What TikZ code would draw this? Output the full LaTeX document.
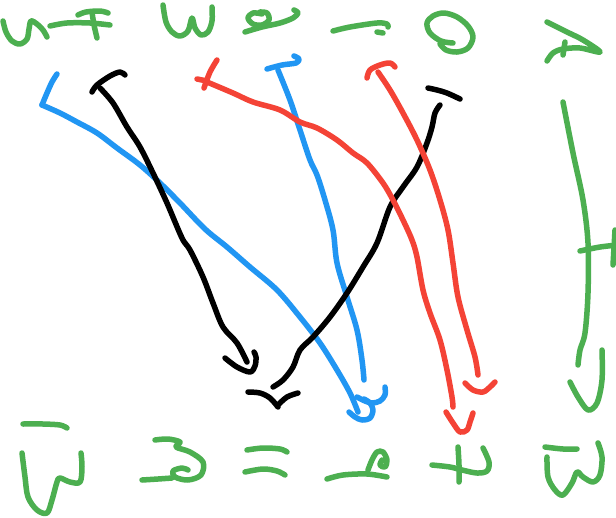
\documentclass[tikz,border=0pt]{standalone}
\definecolor{gr}{RGB}{76,175,80}
\definecolor{bl}{RGB}{33,150,243}
\definecolor{rd}{RGB}{244,67,54}
\definecolor{bk}{RGB}{0,0,0}
\tikzset{
  pen/.style={line width=5.5pt, line cap=round, line join=round},
  gpen/.style={pen, draw=gr},
  bpen/.style={pen, draw=bl},
  rpen/.style={pen, draw=rd},
  kpen/.style={pen, draw=bk},
  sm/.style={smooth, tension=0.55}
}
\begin{document}
\begin{tikzpicture}[x=1pt,y=-1pt]
\useasboundingbox[fill=white] (0,0) rectangle (616,517);
% ---------- top row of glyphs ----------
\draw[gpen] plot[sm] coordinates {(3,21) (6,32) (12,41) (20,44) (27,39) (29,29) (31,21) (37,24) (43,30) (47,37)};
\draw[gpen] plot[sm] coordinates {(50,26) (67,23) (90,23) (110,25)};
\draw[gpen] plot[sm] coordinates {(78,15) (86,12) (100,11) (108,13)};
\draw[gpen] plot[sm] coordinates {(92,12) (94,25) (97,38)};
\draw[gpen] plot[sm] coordinates {(163,5) (166,22) (172,32) (180,36) (188,31) (192,18) (195,28) (201,35) (208,32) (212,21) (212,7)};
\draw[gpen] plot[sm] coordinates {(262,14) (253,13) (248,18) (253,24) (262,25) (269,20) (267,13) (260,12)};
\draw[gpen] plot[sm] coordinates {(245,32) (262,27) (280,23) (293,18) (298,13) (294,10)};
\draw[gpen] plot[sm] coordinates {(333,31) (350,27) (377,23) (387,24) (388,27)};
\draw[gpen] (377,32) -- (383,33);
\draw[gpen] plot[sm] coordinates {(453,43) (441,41) (430,33) (427,23) (433,16) (444,13) (457,17) (468,26) (473,37) (468,48) (457,52) (446,50) (440,44)};
\draw[gpen] plot[sm] coordinates {(547,22) (567,32) (583,40) (600,52) (580,48) (563,49) (553,53) (547,61)};
\draw[gpen] (565,42) -- (563,55);
% ---------- right green arrow ----------
\draw[gpen] plot[sm] coordinates {(563,102) (573,153) (583,200) (588,243) (588,293) (585,333) (580,350) (578,365)};
\draw[gpen] plot[sm] coordinates {(580,251) (600,247) (618,245)};
\draw[gpen] (615,230) -- (613,265);
\draw[gpen] plot[sm] coordinates {(570,382) (578,397) (588,410) (597,403) (602,380) (602,350)};
% ---------- bottom row of glyphs ----------
\draw[gpen] plot[sm] coordinates {(23,424) (43,424) (60,425) (67,428)};
\draw[gpen] plot[sm] coordinates {(22,453) (25,477) (28,497) (37,510) (47,513) (52,500) (57,482) (60,478) (70,482) (80,482) (82,467) (81,453)};
\draw[gpen] plot[sm] coordinates {(155,440) (168,439) (180,442) (176,447) (190,452) (203,462) (201,475) (188,480) (175,477) (173,471) (182,468) (188,470)};
\draw[gpen] plot[sm] coordinates {(142,480) (158,479) (172,478)};
\draw[gpen] plot[sm] coordinates {(247,450) (263,448) (280,449) (287,452)};
\draw[gpen] plot[sm] coordinates {(245,472) (263,469) (277,471) (285,475)};
\draw[gpen] plot[sm] coordinates {(327,479) (343,475) (367,474) (387,477)};
\draw[gpen] plot[sm] coordinates {(368,470) (372,460) (377,452) (383,452) (387,460) (385,467) (380,465) (382,460)};
\draw[gpen] plot[sm] coordinates {(432,465) (450,467) (462,470) (477,473) (487,471) (489,462) (483,448)};
\draw[gpen] plot[sm] coordinates {(458,447) (459,465) (459,482)};
\draw[gpen] plot[sm] coordinates {(545,447) (563,449) (577,449)};
\draw[gpen] plot[sm] coordinates {(547,457) (548,477) (555,490) (563,495) (572,483) (577,472) (583,477) (593,482) (600,475) (602,457) (598,443)};
% ---------- blue arrow 1 ----------
\draw[bpen] plot[sm] coordinates {(57,74) (52,82) (47,93) (42,105)};
\draw[bpen] plot[sm] coordinates {(42,105) (60,113) (77,122) (97,133) (117,148) (140,165) (160,183) (180,203) (205,229) (227,247) (250,267) (277,290) (300,317) (320,343) (337,370) (350,393) (358,412)};
\draw[bpen] plot[sm] coordinates {(349,412) (355,417) (362,420) (370,418) (373,410) (370,403) (364,399)};
% ---------- blue arrow 2 ----------
\draw[bpen] plot[sm] coordinates {(267,69) (282,65) (296,63) (299,59) (294,56)};
\draw[bpen] plot[sm] coordinates {(278,70) (290,100) (300,130) (310,160) (317,175) (325,200) (333,230) (337,263) (347,297) (357,330) (362,360) (364,380)};
\draw[bpen] plot[sm] coordinates {(357,397) (365,401) (372,403) (380,401) (385,395) (385,387)};
% ---------- black arrow 1 ----------
\draw[kpen] plot[sm] coordinates {(92,92) (97,85) (110,76) (120,72) (125,75)};
\draw[kpen] plot[sm] coordinates {(100,88) (113,103) (127,127) (140,147) (153,173) (167,203) (182,238) (190,250) (203,277) (213,303) (223,327) (237,343) (247,362)};
\draw[kpen] plot[sm] coordinates {(225,358) (237,367) (250,372) (255,366) (256,357) (254,352)};
% ---------- black arrow 2 ----------
\draw[kpen] plot[sm] coordinates {(273,387) (283,380) (293,367) (300,350) (313,337) (330,317) (347,293) (363,267) (377,243) (390,207) (403,187) (417,167) (427,143) (432,127) (435,113) (440,105)};
\draw[kpen] plot[sm] coordinates {(428,88) (437,90) (447,93) (460,99)};
\draw[kpen] plot[sm] coordinates {(248,392) (260,393) (270,398) (278,407)};
\draw[kpen] plot[sm] coordinates {(278,405) (287,397) (298,393)};
% ---------- red arrow 1 ----------
\draw[rpen] (197,79) -- (207,81);
\draw[rpen] plot[sm] coordinates {(217,60) (210,72) (204,88)};
\draw[rpen] plot[sm] coordinates {(207,82) (233,93) (253,102) (280,110) (300,122) (317,128) (337,140) (353,153) (367,163) (383,183) (393,200) (403,220) (412,240) (417,257) (423,290) (430,313) (440,340) (447,370) (452,397) (453,407)};
\draw[rpen] plot[sm] coordinates {(446,412) (453,423) (460,432) (467,430) (470,422) (473,413)};
% ---------- red arrow 2 ----------
\draw[rpen] plot[sm] coordinates {(367,78) (370,70) (380,65) (390,63) (395,67)};
\draw[rpen] plot[sm] coordinates {(378,72) (390,90) (403,113) (417,140) (430,170) (440,200) (448,230) (453,263) (458,297) (467,330) (475,357) (478,375)};
\draw[rpen] plot[sm] coordinates {(465,383) (473,390) (483,392) (490,387) (495,382)};
\end{tikzpicture}
\end{document}
